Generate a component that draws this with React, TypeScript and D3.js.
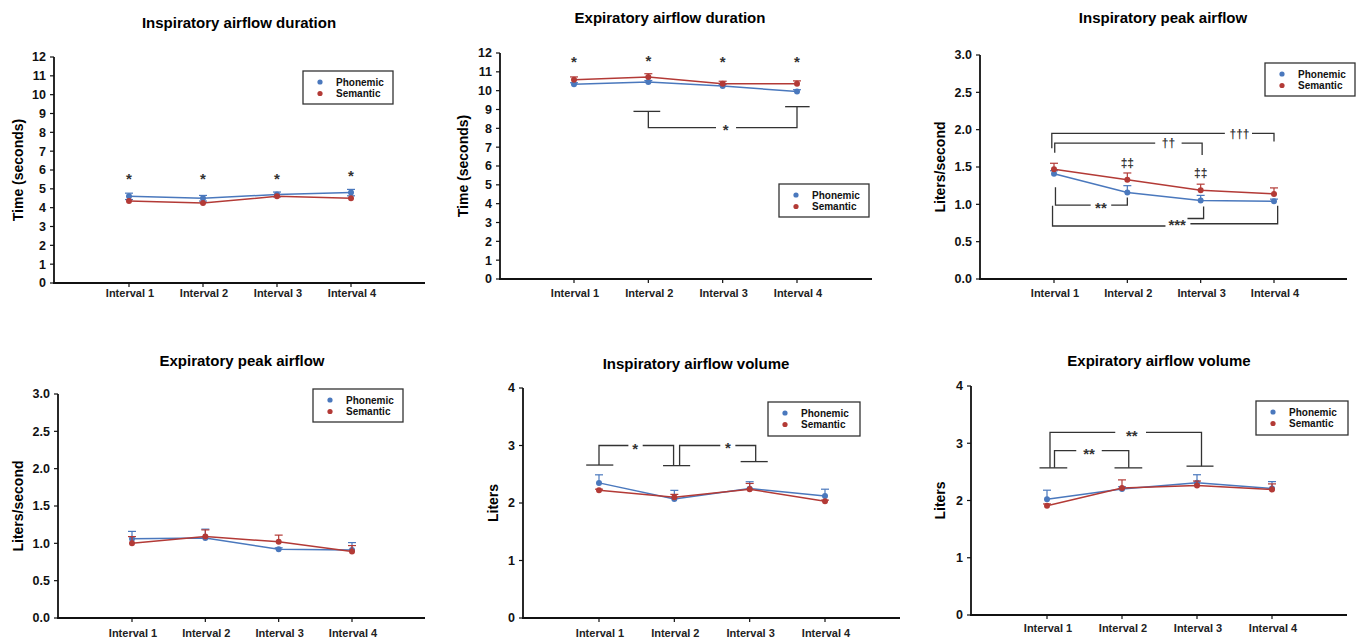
import React, { useEffect, useRef } from 'react';
import * as d3 from 'd3';

const intervals = ['Interval 1', 'Interval 2', 'Interval 3', 'Interval 4'];
const seriesNames = ['Phonemic', 'Semantic'];
const seriesColors = ['#4a78bd', '#b33a36'];

// values
const inspDurPhon = [4.6, 4.5, 4.7, 4.8];
const inspDurPhonErr = [0.17, 0.15, 0.13, 0.17];
const inspDurSem = [4.35, 4.25, 4.6, 4.5];
const inspDurSemErr = [0, 0, 0, 0];

const expDurPhon = [10.34, 10.46, 10.25, 9.95];
const expDurPhonErr = [0.08, 0.08, 0.08, 0.1];
const expDurSem = [10.58, 10.72, 10.37, 10.37];
const expDurSemErr = [0.15, 0.18, 0.13, 0.15];

const inspPeakPhon = [1.41, 1.16, 1.05, 1.04];
const inspPeakPhonErr = [0.04, 0.09, 0.07, 0.03];
const inspPeakSem = [1.47, 1.33, 1.19, 1.14];
const inspPeakSemErr = [0.08, 0.09, 0.08, 0.08];

const expPeakPhon = [1.06, 1.07, 0.92, 0.91];
const expPeakPhonErr = [0.1, 0.12, 0.02, 0.1];
const expPeakSem = [1.0, 1.09, 1.02, 0.89];
const expPeakSemErr = [0.09, 0.09, 0.09, 0.08];

const inspVolPhon = [2.35, 2.07, 2.25, 2.12];
const inspVolPhonErr = [0.14, 0.15, 0.12, 0.12];
const inspVolSem = [2.22, 2.1, 2.24, 2.03];
const inspVolSemErr = [0.02, 0.05, 0.1, 0.02];

const expVolPhon = [2.02, 2.2, 2.31, 2.21];
const expVolPhonErr = [0.16, 0.04, 0.14, 0.12];
const expVolSem = [1.91, 2.22, 2.26, 2.19];
const expVolSemErr = [0.03, 0.14, 0.08, 0.1];

const durTicks = d3.range(0, 13, 1);
const peakTicks = [0, 0.5, 1.0, 1.5, 2.0, 2.5, 3.0];
const volTicks = [0, 1, 2, 3, 4];

// significance brackets: [interval index, value] polylines, labels at [index, value]
const inspDurMarks = [
  { text: '*', at: [0, 5.67] }, { text: '*', at: [1, 5.67] },
  { text: '*', at: [2, 5.7] }, { text: '*', at: [3, 5.85] },
];
const inspDurLines: number[][][] = [];

const expDurMarks = [
  { text: '*', at: [0, 11.7] }, { text: '*', at: [1, 11.77] },
  { text: '*', at: [2, 11.72] }, { text: '*', at: [3, 11.72] },
  { text: '*', at: [2.04, 8.1] },
];
const expDurLines = [
  [[0.8, 8.9], [1.16, 8.9]],
  [[1.0, 8.9], [1.0, 8.04], [1.91, 8.04]],
  [[2.18, 8.04], [3.0, 8.04], [3.0, 9.15]],
  [[2.84, 9.15], [3.17, 9.15]],
];

const inspPeakMarks = [
  { text: '†††', at: [2.53, 1.95] },
  { text: '††', at: [1.56, 1.82] },
  { text: '‡‡', at: [1.0, 1.56] },
  { text: '‡‡', at: [2.0, 1.42] },
  { text: '**', at: [0.64, 0.99] },
  { text: '***', at: [1.68, 0.77] },
];
const inspPeakLines = [
  [[-0.03, 1.75], [-0.03, 1.95], [2.33, 1.95]],
  [[2.7, 1.95], [3.0, 1.95], [3.0, 1.84]],
  [[0.01, 1.69], [0.01, 1.82], [1.38, 1.82]],
  [[1.74, 1.82], [2.02, 1.82], [2.02, 1.66]],
  [[0.02, 1.23], [0.02, 0.99], [0.5, 0.99]],
  [[0.78, 0.99], [1.0, 0.99], [1.0, 1.09]],
  [[-0.02, 0.98], [-0.02, 0.71], [1.52, 0.71]],
  [[1.82, 0.81], [2.04, 0.81], [2.04, 0.97]],
  [[1.86, 0.74], [3.05, 0.74], [3.05, 0.98]],
];

const expPeakMarks: { text: string; at: number[] }[] = [];
const expPeakLines: number[][][] = [];

const inspVolMarks = [
  { text: '*', at: [0.48, 3.0] },
  { text: '*', at: [1.71, 3.02] },
];
const inspVolLines = [
  [[-0.17, 2.66], [0.19, 2.66]],
  [[0, 2.66], [0, 3.0], [0.39, 3.0]],
  [[0.58, 3.0], [0.99, 3.0], [0.99, 2.65]],
  [[0.85, 2.65], [1.21, 2.65]],
  [[1.07, 2.65], [1.07, 3.0], [1.61, 3.0]],
  [[1.81, 3.0], [2.08, 3.0], [2.08, 2.72]],
  [[1.88, 2.72], [2.24, 2.72]],
];

const expVolMarks = [
  { text: '**', at: [1.13, 3.19] },
  { text: '**', at: [0.56, 2.87] },
];
const expVolLines = [
  [[-0.1, 2.57], [0.27, 2.57]],
  [[0.04, 2.57], [0.04, 3.19], [0.91, 3.19]],
  [[1.32, 3.19], [2.06, 3.19], [2.06, 2.6]],
  [[1.86, 2.6], [2.22, 2.6]],
  [[0.1, 2.57], [0.1, 2.87], [0.39, 2.87]],
  [[0.73, 2.87], [1.09, 2.87], [1.09, 2.57]],
  [[0.9, 2.57], [1.27, 2.57]],
];

const panels = [
  {
    title: 'Inspiratory airflow duration', yLabel: 'Time (seconds)', domain: [0, 12], ticks: durTicks, fmt: d3.format('d'),
    series: [[inspDurPhon, inspDurPhonErr], [inspDurSem, inspDurSemErr]], both: [true, false],
    marks: inspDurMarks, lines: inspDurLines,
    axisX: 54, top: 57, bottom: 283, x1: 129, x4: 351, xEnd: 425, titleX: 239, titleY: 23,
    legend: [303, 71, 90, 33], yLabelX: 18, xLabelY: 293,
  },
  {
    title: 'Expiratory airflow duration', yLabel: 'Time (seconds)', domain: [0, 12], ticks: durTicks, fmt: d3.format('d'),
    series: [[expDurPhon, expDurPhonErr], [expDurSem, expDurSemErr]], both: [false, false],
    marks: expDurMarks, lines: expDurLines,
    axisX: 500, top: 53, bottom: 279, x1: 574, x4: 797, xEnd: 872, titleX: 670, titleY: 18,
    legend: [779, 184, 90, 33], yLabelX: 463, xLabelY: 293,
  },
  {
    title: 'Inspiratory peak airflow', yLabel: 'Liters/second', domain: [0, 3], ticks: peakTicks, fmt: d3.format('.1f'),
    series: [[inspPeakPhon, inspPeakPhonErr], [inspPeakSem, inspPeakSemErr]], both: [false, false],
    marks: inspPeakMarks, lines: inspPeakLines,
    axisX: 980, top: 55, bottom: 279, x1: 1054, x4: 1274, xEnd: 1347, titleX: 1163, titleY: 18,
    legend: [1265, 63, 90, 33], yLabelX: 940, xLabelY: 293,
  },
  {
    title: 'Expiratory peak airflow', yLabel: 'Liters/second', domain: [0, 3], ticks: peakTicks, fmt: d3.format('.1f'),
    series: [[expPeakPhon, expPeakPhonErr], [expPeakSem, expPeakSemErr]], both: [false, false],
    marks: expPeakMarks, lines: expPeakLines,
    axisX: 58, top: 394, bottom: 618, x1: 132, x4: 352, xEnd: 425, titleX: 242, titleY: 361,
    legend: [313, 389, 90, 33], yLabelX: 18, xLabelY: 633,
  },
  {
    title: 'Inspiratory airflow volume', yLabel: 'Liters', domain: [0, 4], ticks: volTicks, fmt: d3.format('d'),
    series: [[inspVolPhon, inspVolPhonErr], [inspVolSem, inspVolSemErr]], both: [false, false],
    marks: inspVolMarks, lines: inspVolLines,
    axisX: 523, top: 388, bottom: 618, x1: 599, x4: 825, xEnd: 900, titleX: 696, titleY: 364,
    legend: [768, 402, 92, 34], yLabelX: 493, xLabelY: 633,
  },
  {
    title: 'Expiratory airflow volume', yLabel: 'Liters', domain: [0, 4], ticks: volTicks, fmt: d3.format('d'),
    series: [[expVolPhon, expVolPhonErr], [expVolSem, expVolSemErr]], both: [false, false],
    marks: expVolMarks, lines: expVolLines,
    axisX: 971, top: 386, bottom: 615, x1: 1047, x4: 1272, xEnd: 1347, titleX: 1159, titleY: 361,
    legend: [1256, 401, 92, 34], yLabelX: 940, xLabelY: 628,
  },
];

const FONT = '"Liberation Sans", Arial, Helvetica, sans-serif';

const App = () => {
  const svgRef = useRef<SVGSVGElement>(null);

  useEffect(() => {
    const svg = d3.select(svgRef.current);
    svg.selectAll('*').remove();

    panels.forEach(p => {
      const g = svg.append('g');
      const x = d3.scaleLinear().domain([0, 3]).range([p.x1, p.x4]);
      const y = d3.scaleLinear().domain(p.domain).range([p.bottom, p.top]);

      // title
      g.append('text')
        .attr('x', p.titleX).attr('y', p.titleY + 5)
        .attr('text-anchor', 'middle')
        .style('font', `bold 15px ${FONT}`)
        .text(p.title);

      // y axis
      g.append('line')
        .attr('x1', p.axisX).attr('x2', p.axisX)
        .attr('y1', p.top).attr('y2', p.bottom)
        .attr('stroke', '#111').attr('stroke-width', 1.8);
      p.ticks.forEach(t => {
        g.append('line')
          .attr('x1', p.axisX - 4).attr('x2', p.axisX)
          .attr('y1', y(t)).attr('y2', y(t))
          .attr('stroke', '#111').attr('stroke-width', 1.2);
        g.append('text')
          .attr('x', p.axisX - 8).attr('y', y(t) + 4.4)
          .attr('text-anchor', 'end')
          .style('font', `bold 12.5px ${FONT}`)
          .attr('fill', '#111')
          .text(p.fmt(t));
      });

      // x axis
      g.append('line')
        .attr('x1', p.axisX - 1).attr('x2', p.xEnd)
        .attr('y1', p.bottom).attr('y2', p.bottom)
        .attr('stroke', '#111').attr('stroke-width', 1.8);
      intervals.forEach((lab, i) => {
        g.append('line')
          .attr('x1', x(i)).attr('x2', x(i))
          .attr('y1', p.bottom).attr('y2', p.bottom + 4)
          .attr('stroke', '#111').attr('stroke-width', 1.2);
        g.append('text')
          .attr('x', x(i) + 1).attr('y', p.xLabelY + 4)
          .attr('text-anchor', 'middle')
          .style('font', `bold 11px ${FONT}`)
          .attr('fill', '#222')
          .text(lab);
      });

      // y label
      const ym = (p.top + p.bottom) / 2;
      g.append('text')
        .attr('transform', `translate(${p.yLabelX + 5},${ym}) rotate(-90)`)
        .attr('text-anchor', 'middle')
        .style('font', `bold 14px ${FONT}`)
        .text(p.yLabel);

      // brackets
      const line = d3.line<number[]>().x(d => x(d[0])).y(d => y(d[1]));
      p.lines.forEach(pts => {
        g.append('path')
          .attr('d', line(pts as any))
          .attr('fill', 'none')
          .attr('stroke', '#333')
          .attr('stroke-width', 1.3);
      });
      p.marks.forEach(m => {
        const star = m.text.includes('*');
        const fs = star ? 15 : 12;
        g.append('text')
          .attr('x', x(m.at[0])).attr('y', y(m.at[1]) + (star ? 0.55 : 0.36) * fs)
          .attr('text-anchor', 'middle')
          .style('font', `bold ${fs}px ${FONT}`)
          .attr('fill', '#333')
          .text(m.text);
      });

      // series
      p.series.forEach(([vals, errs], si) => {
        const color = seriesColors[si];
        vals.forEach((v, i) => {
          const e = errs[i];
          if (e > 0) {
            const lo = p.both[si] ? v - e : v;
            g.append('line')
              .attr('x1', x(i)).attr('x2', x(i))
              .attr('y1', y(lo)).attr('y2', y(v + e))
              .attr('stroke', color).attr('stroke-width', 1.2);
            g.append('line')
              .attr('x1', x(i) - 4).attr('x2', x(i) + 4)
              .attr('y1', y(v + e)).attr('y2', y(v + e))
              .attr('stroke', color).attr('stroke-width', 1.2);
            if (p.both[si]) {
              g.append('line')
                .attr('x1', x(i) - 4).attr('x2', x(i) + 4)
                .attr('y1', y(v - e)).attr('y2', y(v - e))
                .attr('stroke', color).attr('stroke-width', 1.2);
            }
          }
        });
        g.append('path')
          .datum(vals)
          .attr('d', d3.line<number>().x((d, i) => x(i)).y(d => y(d)))
          .attr('fill', 'none')
          .attr('stroke', color)
          .attr('stroke-width', 1.5);
        g.selectAll(null)
          .data(vals)
          .enter().append('circle')
          .attr('cx', (d, i) => x(i))
          .attr('cy', d => y(d))
          .attr('r', 3)
          .attr('fill', color);
      });

      // legend
      const [lx, ly, lw, lh] = p.legend;
      g.append('rect')
        .attr('x', lx).attr('y', ly).attr('width', lw).attr('height', lh)
        .attr('fill', 'white').attr('stroke', '#333').attr('stroke-width', 1.3);
      seriesNames.forEach((name, si) => {
        const cy = ly + 11 + si * 11.5;
        g.append('circle')
          .attr('cx', lx + 17).attr('cy', cy).attr('r', 2.6)
          .attr('fill', seriesColors[si]);
        g.append('text')
          .attr('x', lx + 33).attr('y', cy + 3.5)
          .style('font', `bold 10px ${FONT}`)
          .attr('fill', '#111')
          .text(name);
      });
    });
  }, []);

  return (
    <svg
      ref={svgRef}
      width={1357}
      height={638}
      style={{ position: 'absolute', left: 0, top: 0, background: 'white' }}
    />
  );
};

export default App;
